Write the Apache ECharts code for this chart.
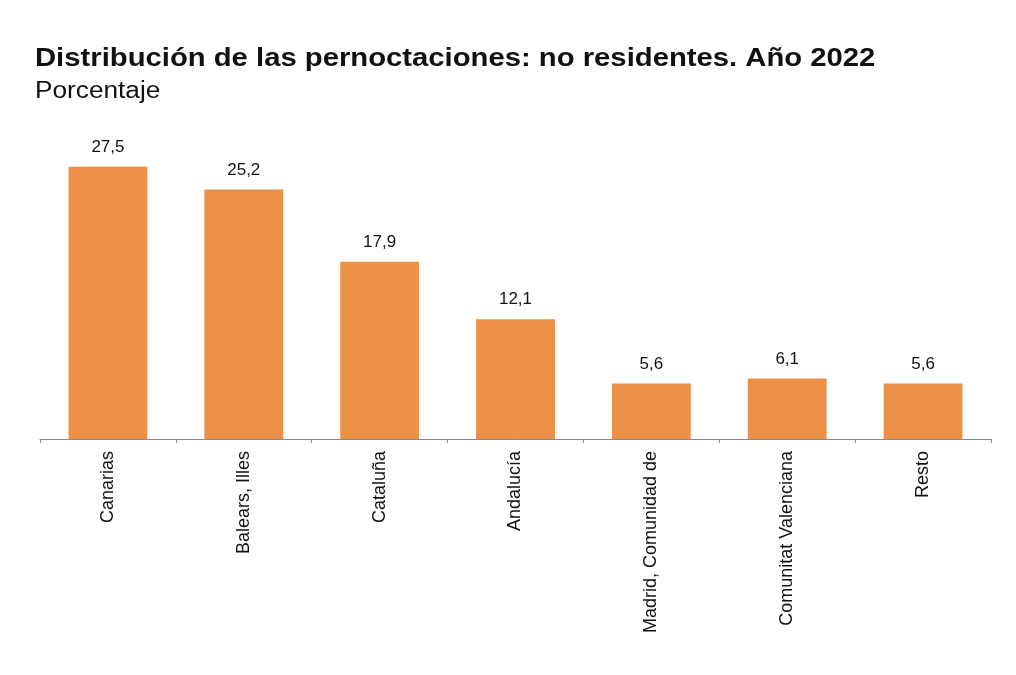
<!DOCTYPE html>
<html>
<head>
<meta charset="utf-8">
<script src="https://cdn.jsdelivr.net/npm/echarts@6/dist/echarts.min.js"></script>
<style>
	html, body { margin: 0; padding: 0; background: #fff; }
	#chart { width: 1016px; height: 675px; }
</style>
</head>
<body>
<div id="chart"></div>
<script>
// datos
const categorias = ["Canarias", "Balears, Illes", "Cataluña", "Andalucía", "Madrid, Comunidad de", "Comunitat Valenciana", "Resto"]
const porcentajes = [27.5, 25.2, 17.9, 12.1, 5.6, 6.1, 5.6]
const titulo = "Distribución de las pernoctaciones: no residentes. Año 2022"
const subtitulo = "Porcentaje"

const myChart = echarts.init(document.getElementById("chart"))
const option = {
	animation: false,
	// el título va como texto gráfico para poder ensancharlo un poco
	graphic: [
		{
			type: "text",
			x: 35,
			y: 47,
			scaleX: 1.17,
			style: {
				text: titulo,
				font: "bold 25px 'Liberation Sans'",
				fill: "#111",
				verticalAlign: "top",
			},
		},
		{
			type: "text",
			x: 35,
			y: 80,
			scaleX: 1.14,
			style: {
				text: subtitulo,
				font: "23px 'Liberation Sans'",
				fill: "#111",
				verticalAlign: "top",
			},
		},
	],
	grid: { left: 40, right: 25, top: 142, bottom: 236 },
	xAxis: {
		type: "category",
		data: categorias,
		axisLine: { lineStyle: { color: "#888", width: 1 } },
		axisTick: { show: true, length: 4, lineStyle: { color: "#888" } },
		axisLabel: {
			rotate: 90,
			margin: 12,
			color: "#111",
			fontFamily: "Liberation Sans",
			fontSize: 18,
			interval: 0,
		},
	},
	yAxis: {
		type: "value",
		min: 0,
		max: 30,
		show: false,
	},
	series: [
		{
			type: "bar",
			data: porcentajes,
			barWidth: "58%",
			itemStyle: { color: "#EC9148" },
			label: {
				show: true,
				position: "top",
				distance: 11,
				color: "#111",
				fontFamily: "Liberation Sans",
				fontSize: 17,
				formatter: (p) => p.value.toFixed(1).replace(".", ","),
			},
		},
	],
}
myChart.setOption(option)
</script>
</body>
</html>
